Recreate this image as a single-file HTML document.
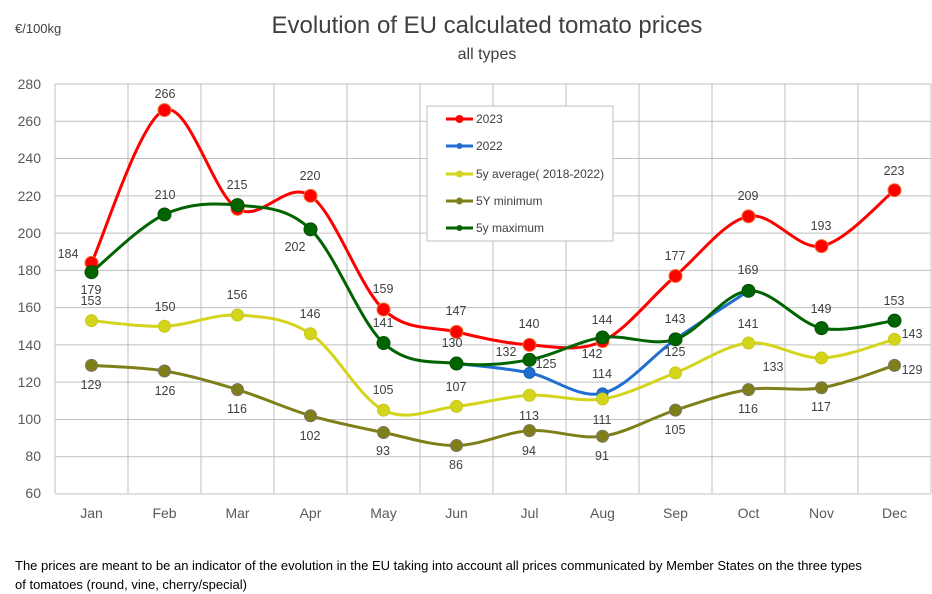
<!DOCTYPE html>
<html><head><meta charset="utf-8"><style>
body{margin:0;background:#fff;width:932px;height:594px;overflow:hidden;font-family:"Liberation Sans",sans-serif}
svg{display:block}
</style></head><body>
<svg id="s" width="932" height="594" xmlns="http://www.w3.org/2000/svg" font-family="Liberation Sans, sans-serif">
<text x="487" y="33" font-size="24" fill="#404040" text-anchor="middle">Evolution of EU calculated tomato prices</text>
<text x="487" y="59" font-size="16" fill="#404040" text-anchor="middle">all types</text>
<text x="15" y="33" font-size="13" fill="#404040">€/100kg</text>
<g id="grid"></g>
<g font-size="14" fill="#595959" text-anchor="end">
<text x="41" y="89">280</text><text x="41" y="126">260</text><text x="41" y="163">240</text><text x="41" y="201">220</text><text x="41" y="238">200</text><text x="41" y="275">180</text><text x="41" y="312">160</text><text x="41" y="350">140</text><text x="41" y="387">120</text><text x="41" y="424">100</text><text x="41" y="461">80</text><text x="41" y="498">60</text>
</g>
<g font-size="14" fill="#595959" text-anchor="middle">
<text x="91.5" y="518">Jan</text><text x="164.5" y="518">Feb</text><text x="237.5" y="518">Mar</text><text x="310.5" y="518">Apr</text><text x="383.5" y="518">May</text><text x="456.5" y="518">Jun</text><text x="529.5" y="518">Jul</text><text x="602.5" y="518">Aug</text><text x="675.5" y="518">Sep</text><text x="748.5" y="518">Oct</text><text x="821.5" y="518">Nov</text><text x="894.5" y="518">Dec</text>
</g>
<g id="series"></g>
<rect x="427" y="106" width="186" height="135" fill="#fff" stroke="#bfbfbf"/>
<g font-size="12" fill="#404040">
<line x1="446" y1="119" x2="473" y2="119" stroke="#ff0000" stroke-width="3"/><circle cx="459.5" cy="119" r="4" fill="#ff0000"/><text x="476" y="123">2023</text>
<line x1="446" y1="146" x2="473" y2="146" stroke="#1f6fd0" stroke-width="3"/><circle cx="459.5" cy="146" r="3" fill="#1f6fd0"/><text x="476" y="150">2022</text>
<line x1="446" y1="174" x2="473" y2="174" stroke="#d4d41c" stroke-width="3"/><circle cx="459.5" cy="174" r="3.5" fill="#d4d41c"/><text x="476" y="178">5y average( 2018-2022)</text>
<line x1="446" y1="201" x2="473" y2="201" stroke="#7f7f1a" stroke-width="3"/><circle cx="459.5" cy="201" r="3.5" fill="#7f7f1a"/><text x="476" y="205">5Y minimum</text>
<line x1="446" y1="228" x2="473" y2="228" stroke="#006400" stroke-width="3"/><circle cx="459.5" cy="228" r="3" fill="#006400"/><text x="476" y="232">5y maximum</text>
</g>
<g font-size="12.5" fill="#404040" text-anchor="middle">
<text x="68" y="258">184</text><text x="165" y="98">266</text><text x="310" y="180">220</text><text x="383" y="293">159</text><text x="456" y="315">147</text><text x="529" y="328">140</text><text x="592" y="358">142</text><text x="675" y="260">177</text><text x="748" y="200">209</text><text x="821" y="230">193</text><text x="894" y="175">223</text>
<text x="91" y="294">179</text><text x="165" y="199">210</text><text x="237" y="189">215</text><text x="295" y="251">202</text><text x="383" y="327">141</text><text x="452" y="347">130</text><text x="506" y="356">132</text><text x="602" y="324">144</text><text x="675" y="323">143</text><text x="748" y="274">169</text><text x="821" y="313">149</text><text x="894" y="305">153</text>
<text x="91" y="305">153</text><text x="165" y="311">150</text><text x="237" y="299">156</text><text x="310" y="318">146</text><text x="383" y="394">105</text><text x="456" y="391">107</text><text x="529" y="420">113</text><text x="602" y="424">111</text><text x="675" y="356">125</text><text x="748" y="328">141</text><text x="773" y="371">133</text><text x="912" y="338">143</text>
<text x="91" y="389">129</text><text x="165" y="395">126</text><text x="237" y="413">116</text><text x="310" y="440">102</text><text x="383" y="455">93</text><text x="456" y="469">86</text><text x="529" y="455">94</text><text x="602" y="460">91</text><text x="675" y="434">105</text><text x="748" y="413">116</text><text x="821" y="411">117</text><text x="912" y="374">129</text>
<text x="546" y="368">125</text><text x="602" y="378">114</text>
</g>
<text x="15" y="570" font-size="13" fill="#000">The prices are meant to be an indicator of the evolution in the EU taking into account all prices communicated by Member States on the three types</text>
<text x="15" y="589" font-size="13" fill="#000">of tomatoes (round, vine, cherry/special)</text>
</svg>
<script>
function X(i){return 91.5+73*i}
function Y(v){return 84+(280-v)*1.8636}
var g=document.getElementById('grid'),h='';
for(var v=60;v<=280;v+=20)h+='<line x1="55" x2="931" y1="'+Y(v)+'" y2="'+Y(v)+'" stroke="#bfbfbf"/>';
for(var i=0;i<=12;i++)h+='<line y1="84" y2="493" x1="'+(55+73*i)+'" x2="'+(55+73*i)+'" stroke="#bfbfbf"/>';
g.innerHTML=h;
function path(pts){var d='M'+pts[0][0]+' '+pts[0][1];
for(var i=0;i<pts.length-1;i++){var p0=pts[i-1]||pts[i],p1=pts[i],p2=pts[i+1],p3=pts[i+2]||p2,t=6;
d+=' C'+(p1[0]+(p2[0]-p0[0])/t)+' '+(p1[1]+(p2[1]-p0[1])/t)+' '+(p2[0]-(p3[0]-p1[0])/t)+' '+(p2[1]-(p3[1]-p1[1])/t)+' '+p2[0]+' '+p2[1];}
return d}
var S=[
{c:'#1f6fd0',k:'#1a5fb0',d:[130,125,114,143,169],o:5,r:5.5},
{c:'#d4d41c',k:'#c8c818',d:[153,150,156,146,105,107,113,111,125,141,133,143],o:0,r:6},
{c:'#7f7f1a',k:'#7a7560',d:[129,126,116,102,93,86,94,91,105,116,117,129],o:0,r:6},
{c:'#ff0000',k:'#f07030',d:[184,266,213,220,159,147,140,142,177,209,193,223],o:0,r:6.5},
{c:'#006400',k:'#005000',d:[179,210,215,202,141,130,132,144,143,169,149,153],o:0,r:6.5}];
var out='';
S.forEach(function(s){var pts=s.d.map(function(v,i){return[X(i+s.o),Y(v)]});
out+='<path d="'+path(pts)+'" fill="none" stroke="'+s.c+'" stroke-width="3"/>';
pts.forEach(function(p){out+='<circle cx="'+p[0]+'" cy="'+p[1]+'" r="'+s.r+'" fill="'+s.c+'" stroke="'+s.k+'" stroke-width="1"/>'})});
document.getElementById('series').innerHTML=out;
</script>
</body></html>
